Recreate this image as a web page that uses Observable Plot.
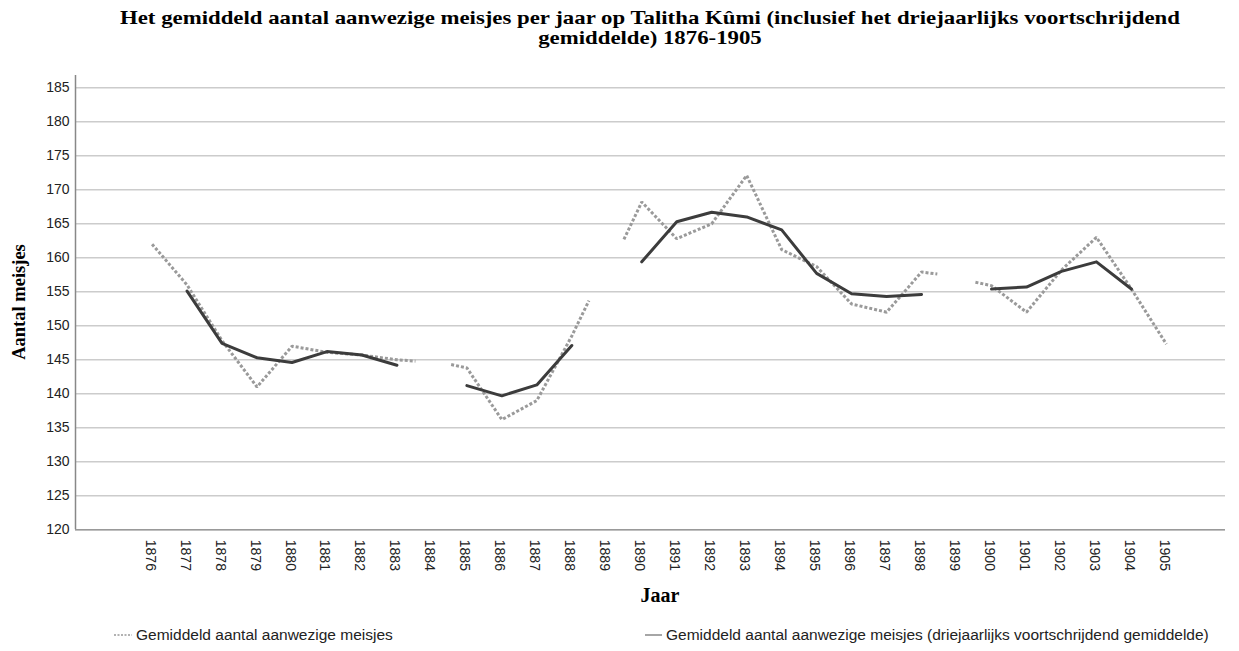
<!DOCTYPE html>
<html>
<head>
<meta charset="utf-8">
<script src="https://cdn.jsdelivr.net/npm/d3@7"></script>
<script src="https://cdn.jsdelivr.net/npm/@observablehq/plot@0.6"></script>
<style>
  html, body { margin: 0; padding: 0; background: #fff; }
  body { width: 1239px; height: 651px; overflow: hidden; position: relative; font-family: "Liberation Sans", Arial, sans-serif; }
  #title { position: absolute; left: 50px; width: 1200px; top: 8px; text-align: center; transform: scaleX(1.2); transform-origin: 600px 0;
    font-family: "Liberation Serif", "Times New Roman", serif; font-weight: bold; font-size: 19px; line-height: 20px; color: #000; }
  #chart { position: absolute; left: 0; top: 50px; }
  #xlabel { position: absolute; left: 610px; width: 100px; top: 584px; text-align: center;
    font-family: "Liberation Serif", "Times New Roman", serif; font-weight: bold; font-size: 20px; }
  #ylabel { position: absolute; left: 19px; top: 302px; transform: translate(-50%, -50%) rotate(-90deg); white-space: nowrap;
    font-family: "Liberation Serif", "Times New Roman", serif; font-weight: bold; font-size: 18.5px; }
  .leg { position: absolute; top: 626px; font-size: 15.5px; color: #222; white-space: nowrap; display: flex; align-items: center; }
  .leg svg { margin-right: 4px; }
</style>
</head>
<body>
<div id="title">Het gemiddeld aantal aanwezige meisjes per jaar op Talitha Kûmi (inclusief het driejaarlijks voortschrijdend<br>gemiddelde) 1876-1905</div>
<div id="chart"></div>
<div id="xlabel">Jaar</div>
<div id="ylabel">Aantal meisjes</div>
<div class="leg" style="left:114px;"><svg width="18" height="4"><line x1="0" y1="2" x2="18" y2="2" stroke="#999" stroke-width="1.5" stroke-dasharray="2,1.5"/></svg><span>Gemiddeld aantal aanwezige meisjes</span></div>
<div class="leg" style="left:645px;"><svg width="17" height="4"><line x1="0" y1="2" x2="17" y2="2" stroke="#888" stroke-width="1.5"/></svg><span>Gemiddeld aantal aanwezige meisjes (driejaarlijks voortschrijdend gemiddelde)</span></div>
<script>
// Tick labels
const years = d3.range(1876, 1906);
const yTicks = [120,125,130,135,140,145,150,155,160,165,170,175,180,185];

// Raw yearly average (dotted). Null entries break the line; fractional years are
// the visible ends of the line pieces around the gaps.
const rawYears = [1876,1877,1878,1879,1880,1881,1882,1883,1883.53,1884,1884.55,1885,1886,1887,1888,1888.49,1889,1889.49,1890,1891,1892,1893,1894,1895,1896,1897,1898,1898.45,1899,1899.54,1900,1901,1902,1903,1904,1905];
const rawValues = [162,156,147.8,141,147,146.1,145.7,145,144.8,null,144.3,143.8,136.2,139,148.5,153.7,null,162.7,168.2,162.8,165,172.1,161.2,158.7,153.2,152,157.9,157.6,null,156.4,155.9,152,158.2,163,155.4,147.3];

// Three-year moving average (solid)
const maYears = [1877,1878,1879,1880,1881,1882,1883,1884,1885,1886,1887,1888,1889,1890,1891,1892,1893,1894,1895,1896,1897,1898,1899,1900,1901,1902,1903,1904];
const maValues = [155.1,147.4,145.3,144.6,146.2,145.7,144.2,null,141.2,139.7,141.3,147.1,null,159.4,165.3,166.7,166.0,164.1,157.7,154.7,154.3,154.6,null,155.4,155.7,158.0,159.4,155.4];

const raw = rawYears.map((x, i) => ({x, y: rawValues[i]}));
const ma = maYears.map((x, i) => ({x, y: maValues[i]}));

const xDomain = [1873.81, 1906.69];

const chart = Plot.plot({
  width: 1239,
  height: 565,
  marginLeft: 75,
  marginRight: 14,
  marginTop: 25,
  marginBottom: 85.7,
  style: { fontFamily: '"Liberation Sans", Arial, sans-serif', fontSize: "14px", color: "#222", background: "#fff" },
  x: { type: "linear", domain: xDomain },
  y: { domain: [120, 186.8] },
  marks: [
    Plot.gridY(yTicks, { stroke: "#cccccc", strokeOpacity: 1, strokeWidth: 1.5 }),
    Plot.ruleX([xDomain[0]], { stroke: "#888", strokeWidth: 1.5 }),
    Plot.ruleY([120], { stroke: "#999", strokeWidth: 1.5 }),
    Plot.line(raw, { x: "x", y: "y", stroke: "#9a9a9a", strokeWidth: 3, strokeDasharray: "3,2", strokeLinecap: "butt", strokeLinejoin: "miter" }),
    Plot.line(ma, { x: "x", y: "y", stroke: "#3c3c3c", strokeWidth: 3 }),
    Plot.axisY(yTicks, { tickSize: 0, tickPadding: 6, label: null, fontSize: 14 }),
    Plot.axisX(years, { tickSize: 0, tickPadding: 10, tickRotate: 90, tickFormat: d => String(d), label: null, fontSize: 14, dx: -2 })
  ]
});
document.getElementById("chart").appendChild(chart);
</script>
</body>
</html>
